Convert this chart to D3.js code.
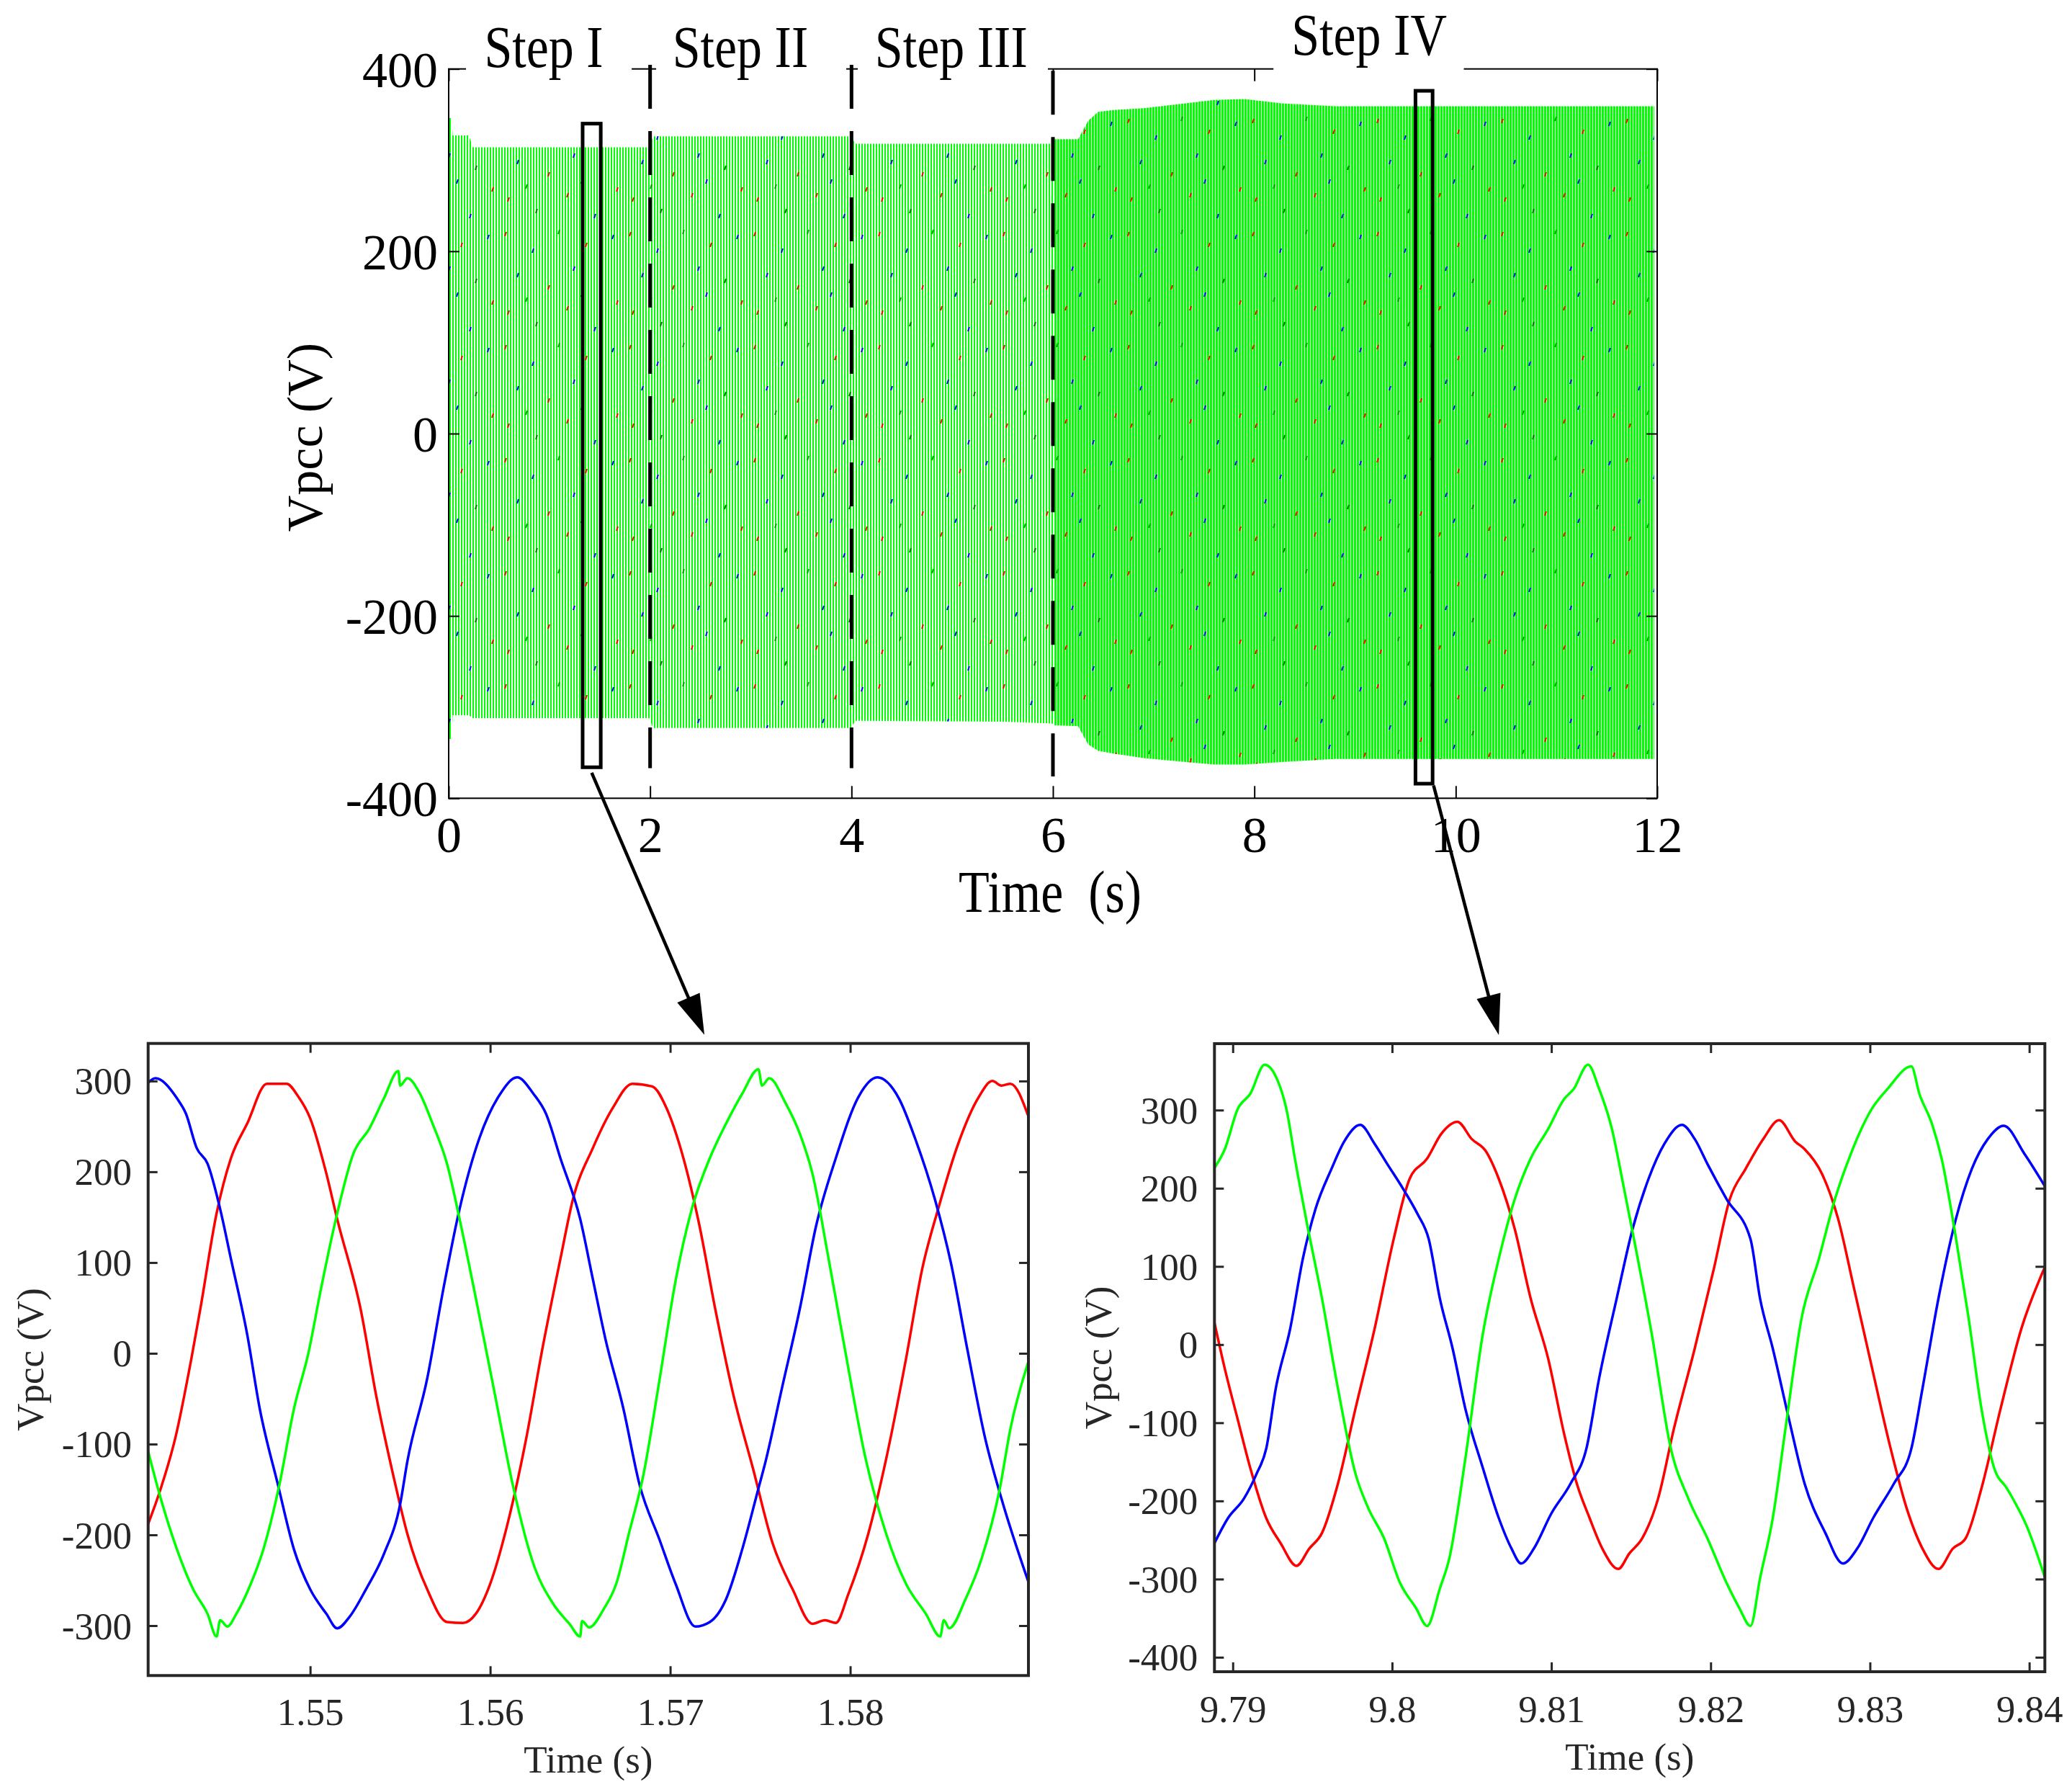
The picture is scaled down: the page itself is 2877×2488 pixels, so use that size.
<!DOCTYPE html>
<html>
<head>
<meta charset="utf-8">
<script src="https://cdn.jsdelivr.net/npm/d3@7"></script>
<style>
  body { margin: 0; background: #fff; }
  svg { display: block; background: #fff; }
  text { font-family: "Liberation Serif", "Times New Roman", serif; }
</style>
</head>
<body>
<svg id="fig" width="2877" height="2488"></svg>
<script>
///////////////////// data /////////////////////
// top plot: envelope of the 3-phase Vpcc over the whole run (V)
const envTime  = [0, 0.03, 0.04, 0.2, 0.24, 1.99, 2.03, 3.99, 4.04, 5.5, 5.99, 6.02, 6.25, 6.35, 6.45, 6.6, 6.9, 7.3, 7.6, 7.9, 8.3, 8.8, 11.97];
const envUpper = [346, 346, 327, 327, 314, 314, 326, 326, 318, 318, 318, 323, 323, 343, 353, 355, 357, 362, 366, 367, 362, 359, 359];
const envLower = [-335, -335, -309, -309, -312, -312, -323, -323, -315, -316, -318, -320, -321, -341, -348, -351, -356, -360, -363, -363, -360, -357, -357];

const topXTicks = [0, 2, 4, 6, 8, 10, 12];
const topYTicks = [-400, -200, 0, 200, 400];

// step annotations (time in s)
const stepNames   = ["Step I", "Step II", "Step III", "Step IV"];
const stepCentres = [0.944, 2.896, 4.99, 9.14];
const stepBoxes   = [[0.172, 1.817], [2.06, 3.948], [4.062, 5.95], [8.19, 10.08]];
const stepLines   = [2, 4, 6];
const stepLineTop = [404.5, 404.5, 398];
const stepLineBot = [-367, -367, -376];

// zoom windows marked on the top plot: [t0, t1, vLow, vHigh]
const zoomBoxes = [[1.33, 1.51, -366, 340], [9.60, 9.77, -384, 376]];
// arrows: start point on top plot [t, V], end time on the zoomed panel
const arrowFrom = [[1.42, -372], [9.78, -386]];
const arrowToT  = [1.5719, 9.8067];

// zoom on Step I (bottom left), [t, V]
const stepIRed = [[1.5410,-188],[1.5417,-149],[1.5425,-94],[1.5434,-6],[1.5439,49],[1.5448,154],[1.5456,215],[1.5465,253],[1.5476,297],[1.5487,297],[1.5493,284],[1.5500,259],[1.5509,198],[1.5515,148],[1.5528,49],[1.5537,-50],[1.5546,-133],[1.5554,-199],[1.5565,-260],[1.5576,-296],[1.5585,-297],[1.5592,-287],[1.5600,-254],[1.5609,-193],[1.5620,-94],[1.5629,5],[1.5639,104],[1.5646,170],[1.5657,226],[1.5668,270],[1.5679,297],[1.5690,294],[1.5698,270],[1.5705,231],[1.5716,143],[1.5725,49],[1.5735,-45],[1.5746,-127],[1.5757,-210],[1.5768,-260],[1.5779,-298],[1.5786,-294],[1.5792,-297],[1.5799,-265],[1.5810,-199],[1.5820,-116],[1.5831,-6],[1.5840,93],[1.5849,160],[1.5860,231],[1.5871,281],[1.5879,300],[1.5884,295],[1.5889,297],[1.5899,261]];
const stepIBlue = [[1.5410,298],[1.5414,303],[1.5426,281],[1.5431,264],[1.5437,226],[1.5443,209],[1.5450,159],[1.5456,104],[1.5465,21],[1.5472,-61],[1.5482,-144],[1.5491,-216],[1.5500,-260],[1.5509,-287],[1.5515,-303],[1.5522,-290],[1.5531,-260],[1.5541,-221],[1.5550,-166],[1.5554,-119],[1.5565,-28],[1.5574,71],[1.5583,159],[1.5594,237],[1.5605,284],[1.5615,304],[1.5624,286],[1.5631,264],[1.5639,215],[1.5650,148],[1.5657,82],[1.5664,16],[1.5674,-61],[1.5683,-145],[1.5694,-205],[1.5703,-254],[1.5714,-301],[1.5722,-296],[1.5731,-271],[1.5740,-216],[1.5749,-149],[1.5753,-119],[1.5762,-39],[1.5772,49],[1.5781,140],[1.5792,215],[1.5805,284],[1.5815,304],[1.5827,281],[1.5836,237],[1.5847,170],[1.5856,99],[1.5865,5],[1.5875,-94],[1.5884,-160],[1.5899,-252]];
const stepIGreen = [[1.5410,-108],[1.5417,-160],[1.5426,-216],[1.5435,-260],[1.5443,-287],[1.5448,-312],[1.5450,-294],[1.5454,-301],[1.5459,-287],[1.5467,-254],[1.5474,-216],[1.5483,-144],[1.5491,-61],[1.5499,0],[1.5506,71],[1.5515,154],[1.5524,220],[1.5533,248],[1.5541,281],[1.5549,311],[1.5550,295],[1.5554,303],[1.5561,286],[1.5568,253],[1.5576,209],[1.5583,148],[1.5591,71],[1.5602,-39],[1.5613,-149],[1.5624,-232],[1.5635,-276],[1.5644,-298],[1.5650,-312],[1.5651,-295],[1.5655,-302],[1.5663,-282],[1.5670,-254],[1.5677,-199],[1.5685,-135],[1.5694,-30],[1.5703,80],[1.5712,159],[1.5722,215],[1.5731,253],[1.5740,286],[1.5749,313],[1.5751,295],[1.5755,303],[1.5764,276],[1.5772,242],[1.5779,198],[1.5788,104],[1.5797,5],[1.5808,-111],[1.5820,-199],[1.5831,-254],[1.5842,-287],[1.5850,-312],[1.5852,-294],[1.5855,-303],[1.5864,-271],[1.5873,-226],[1.5883,-150],[1.5889,-83],[1.5899,-9]];

// zoom on Step IV (bottom right), [t, V]
const stepIVRed = [[9.78885,28],[9.7895,-31],[9.7903,-95],[9.7911,-158],[9.7921,-222],[9.7930,-254],[9.7940,-283],[9.7948,-261],[9.7956,-241],[9.7966,-178],[9.7977,-82],[9.7989,20],[9.8001,135],[9.8011,212],[9.8022,238],[9.8031,270],[9.8041,285],[9.8050,263],[9.8059,247],[9.8067,212],[9.8077,148],[9.8087,59],[9.8098,-18],[9.8108,-114],[9.8116,-178],[9.8124,-222],[9.8132,-261],[9.8142,-287],[9.8149,-267],[9.8157,-248],[9.8167,-197],[9.8177,-107],[9.8190,-5],[9.8202,97],[9.8212,186],[9.8222,225],[9.8233,263],[9.8243,287],[9.8253,260],[9.8259,250],[9.8270,218],[9.8280,161],[9.8290,72],[9.8300,-18],[9.8313,-133],[9.8323,-209],[9.8333,-261],[9.8343,-287],[9.8352,-261],[9.8360,-248],[9.8370,-184],[9.8382,-82],[9.8395,20],[9.8410,100]];
const stepIVBlue = [[9.78885,-254],[9.7897,-222],[9.7907,-197],[9.7915,-165],[9.7921,-133],[9.7927,-56],[9.7936,20],[9.7944,110],[9.7952,174],[9.7962,225],[9.7970,260],[9.7980,281],[9.7989,257],[9.7997,231],[9.8007,199],[9.8016,167],[9.8023,135],[9.8030,59],[9.8038,-5],[9.8046,-82],[9.8057,-158],[9.8067,-222],[9.8075,-261],[9.8081,-280],[9.8089,-261],[9.8100,-216],[9.8112,-178],[9.8122,-133],[9.8130,-43],[9.8141,59],[9.8151,148],[9.8161,212],[9.8171,257],[9.8182,281],[9.8190,263],[9.8198,231],[9.8210,186],[9.8225,135],[9.8231,59],[9.8239,-5],[9.8249,-94],[9.8259,-178],[9.8272,-241],[9.8283,-280],[9.8292,-261],[9.8302,-222],[9.8315,-178],[9.8326,-133],[9.8333,-56],[9.8343,59],[9.8354,161],[9.8364,225],[9.8374,263],[9.8384,280],[9.8397,244],[9.8410,202]];
const stepIVGreen = [[9.78885,226],[9.7895,250],[9.7903,301],[9.7911,321],[9.7920,358],[9.7927,343],[9.7934,298],[9.7939,238],[9.7946,161],[9.7956,59],[9.7966,-56],[9.7977,-165],[9.7985,-209],[9.7995,-248],[9.8005,-305],[9.8015,-337],[9.8022,-360],[9.8030,-312],[9.8036,-273],[9.8046,-146],[9.8057,14],[9.8067,110],[9.8077,186],[9.8087,238],[9.8098,276],[9.8108,314],[9.8114,327],[9.8123,358],[9.8130,327],[9.8138,276],[9.8145,206],[9.8153,123],[9.8163,14],[9.8175,-133],[9.8186,-197],[9.8198,-248],[9.8210,-305],[9.8218,-337],[9.8225,-360],[9.8231,-299],[9.8239,-222],[9.8247,-107],[9.8257,33],[9.8268,110],[9.8278,186],[9.8288,244],[9.8301,301],[9.8311,327],[9.8326,356],[9.8331,321],[9.8339,282],[9.8345,238],[9.8354,136],[9.8362,33],[9.8370,-82],[9.8378,-158],[9.8386,-184],[9.8399,-235],[9.8410,-299]];

const stepITicksX  = [1.55, 1.56, 1.57, 1.58];
const stepITicksY  = [-300, -200, -100, 0, 100, 200, 300];
const stepIVTicksX = [9.79, 9.8, 9.81, 9.82, 9.83, 9.84];
const stepIVTicksY = [-400, -300, -200, -100, 0, 100, 200, 300];

const phaseColours = ["#ff0000", "#0000ff", "#00ff00"];

// texture marks for the aliased red/blue samples inside the green band
const sprinkleMarks = [[9,14,"#ff0000"],[47,37,"#0000ff"],[83,11,"#00a000"],[121,29,"#ff0000"],[158,18,"#0000ff"],
  [26,71,"#0000ff"],[69,88,"#ff0000"],[104,62,"#0000ff"],[141,79,"#007000"],[13,123,"#ff0000"],
  [52,139,"#007000"],[95,117,"#ff0000"],[133,146,"#0000ff"],[164,109,"#ff0000"],[38,105,"#00a000"],[115,98,"#0000ff"]];

/////////////////////////////// drawing ///////////////////////////////
const svg = d3.select("#fig");
const defs = svg.append("defs");

function hatch(id, w) {
  defs.append("pattern").attr("id", id).attr("patternUnits", "userSpaceOnUse")
    .attr("width", 4).attr("height", 10)
    .append("rect").attr("width", w).attr("height", 10).attr("fill", "#00ff00");
}
hatch("hatchA", 2);
hatch("hatchB", 3);
const sp = defs.append("pattern").attr("id", "sprinkle").attr("patternUnits", "userSpaceOnUse")
  .attr("width", 173).attr("height", 157);
sp.selectAll("line").data(sprinkleMarks).join("line")
  .attr("x1", d => d[0]).attr("y1", d => d[1])
  .attr("x2", d => d[0] + 2).attr("y2", d => d[1] - 6)
  .attr("stroke", d => d[2]).attr("stroke-width", 2);

// ---- top plot ----
const T = { x0: 623, x1: 2301, y0: 95.7, y1: 1108.3 };
const xT = d3.scaleLinear().domain([0, 12]).range([T.x0, T.x1]);
const yT = d3.scaleLinear().domain([-400, 400]).range([T.y1, T.y0]);

const envelope = envTime.map((t, i) => ({ t: t, hi: envUpper[i], lo: envLower[i] }));
const band = d3.area().x(d => xT(d.t)).y0(d => yT(d.lo)).y1(d => yT(d.hi));

const gTop = svg.append("g");
gTop.append("path").datum(envelope.filter(d => d.t <= 6.02)).attr("d", band).attr("fill", "url(#hatchA)");
gTop.append("path").datum(envelope.filter(d => d.t >= 6.02)).attr("d", band).attr("fill", "url(#hatchB)");
gTop.append("path").datum(envelope).attr("d", band).attr("fill", "url(#sprinkle)");

gTop.append("rect").attr("x", T.x0).attr("y", T.y0)
  .attr("width", T.x1 - T.x0).attr("height", T.y1 - T.y0)
  .attr("fill", "none").attr("stroke", "#000").attr("stroke-width", 2);

function styleAxis(g, colour, size, sw) {
  g.select(".domain").remove();
  g.selectAll(".tick line").attr("stroke", colour).attr("stroke-width", sw);
  g.selectAll(".tick text").attr("fill", colour)
    .attr("font-family", "Liberation Serif").attr("font-size", size);
}

gTop.append("g").attr("transform", `translate(0,${T.y1})`)
  .call(d3.axisBottom(xT).tickValues(topXTicks).tickSize(-17).tickFormat(d => String(d)))
  .call(g => styleAxis(g, "#000", 70, 2))
  .selectAll(".tick text").attr("y", 74.7).attr("dy", null);
gTop.append("g").attr("transform", `translate(0,${T.y0})`)
  .call(d3.axisTop(xT).tickValues(topXTicks).tickSize(-17).tickFormat(() => ""))
  .call(g => styleAxis(g, "#000", 70, 2));
gTop.append("g").attr("transform", `translate(${T.x0},0)`)
  .call(d3.axisLeft(yT).tickValues(topYTicks).tickSize(-15).tickPadding(15).tickFormat(d => String(d)))
  .call(g => styleAxis(g, "#000", 70, 2))
  .selectAll(".tick text").attr("dy", "0.35em");
gTop.append("g").attr("transform", `translate(${T.x1},0)`)
  .call(d3.axisRight(yT).tickValues(topYTicks).tickSize(-15).tickFormat(() => ""))
  .call(g => styleAxis(g, "#000", 70, 2));

// white boxes behind the step titles hide the top border
gTop.selectAll("rect.stepbox").data(stepBoxes).join("rect").attr("class", "stepbox")
  .attr("x", d => xT(d[0])).attr("width", d => xT(d[1]) - xT(d[0]))
  .attr("y", 0).attr("height", 118).attr("fill", "#fff");

gTop.selectAll("text.step").data(stepNames).join("text").attr("class", "step")
  .attr("transform", (d, i) => `translate(${xT(stepCentres[i])},${i === 3 ? 76 : 92.7}) scale(1,1.18)`)
  .attr("text-anchor", "middle").attr("font-size", 70).attr("fill", "#000")
  .text(d => d);

gTop.selectAll("line.stepline").data(stepLines).join("line").attr("class", "stepline")
  .attr("x1", d => xT(d)).attr("x2", d => xT(d))
  .attr("y1", (d, i) => yT(stepLineTop[i])).attr("y2", (d, i) => yT(stepLineBot[i]))
  .attr("stroke", "#000").attr("stroke-width", 5).attr("stroke-dasharray", "61,31");

gTop.selectAll("rect.zoombox").data(zoomBoxes).join("rect").attr("class", "zoombox")
  .attr("x", d => xT(d[0])).attr("width", d => xT(d[1]) - xT(d[0]))
  .attr("y", d => yT(d[3])).attr("height", d => yT(d[2]) - yT(d[3]))
  .attr("fill", "none").attr("stroke", "#000").attr("stroke-width", 5);

gTop.append("text")
  .attr("transform", `translate(${(T.x0 + T.x1) / 2 - 4},1266) scale(1,1.18)`)
  .attr("text-anchor", "middle").attr("font-size", 70).attr("fill", "#000")
  .text("Time\u00a0\u00a0(s)");
gTop.append("text")
  .attr("transform", `translate(447,607) rotate(-90)`)
  .attr("text-anchor", "middle").attr("font-size", 70).attr("fill", "#000")
  .text("Vpcc (V)");

// ---- zoomed panels ----
const panels = [
  { x0: 205.7, x1: 1428, y0: 1448.7, y1: 2326.3, xDom: [1.541, 1.5899], yDom: [-355, 341.4],
    xTicks: stepITicksX, yTicks: stepITicksY, series: [stepIRed, stepIBlue, stepIGreen],
    yPad: 22.7, xBase: 68.4, yLabX: 60, xLabY: 2461 },
  { x0: 1686.3, x1: 2839.3, y0: 1449, y1: 2321, xDom: [9.78885, 9.84098], yDom: [-418.5, 385],
    xTicks: stepIVTicksX, yTicks: stepIVTicksY, series: [stepIVRed, stepIVBlue, stepIVGreen],
    yPad: 23, xBase: 69.7, yLabX: 1543, xLabY: 2457 }
];

const ink = "#262626";
panels.forEach((p, k) => {
  p.x = d3.scaleLinear().domain(p.xDom).range([p.x0, p.x1]);
  p.y = d3.scaleLinear().domain(p.yDom).range([p.y1, p.y0]);
  const g = svg.append("g");
  defs.append("clipPath").attr("id", "clip" + k).append("rect")
    .attr("x", p.x0).attr("y", p.y0).attr("width", p.x1 - p.x0).attr("height", p.y1 - p.y0);

  const line = d3.line().x(d => p.x(d[0])).y(d => p.y(d[1])).curve(d3.curveMonotoneX);
  g.append("g").attr("clip-path", `url(#clip${k})`)
    .selectAll("path").data(p.series).join("path")
    .attr("d", line).attr("fill", "none")
    .attr("stroke", (d, i) => phaseColours[i]).attr("stroke-width", 3.5)
    .attr("stroke-linejoin", "round");

  g.append("g").attr("transform", `translate(0,${p.y1})`)
    .call(d3.axisBottom(p.x).tickValues(p.xTicks).tickSize(-13).tickFormat(d => String(d)))
    .call(a => styleAxis(a, ink, 53, 3))
    .selectAll(".tick text").attr("y", p.xBase).attr("dy", null);
  g.append("g").attr("transform", `translate(0,${p.y0})`)
    .call(d3.axisTop(p.x).tickValues(p.xTicks).tickSize(-13).tickFormat(() => ""))
    .call(a => styleAxis(a, ink, 53, 3));
  g.append("g").attr("transform", `translate(${p.x0},0)`)
    .call(d3.axisLeft(p.y).tickValues(p.yTicks).tickSize(-13).tickPadding(p.yPad).tickFormat(d => String(d)))
    .call(a => styleAxis(a, ink, 53, 3))
    .selectAll(".tick text").attr("dy", "0.34em");
  g.append("g").attr("transform", `translate(${p.x1},0)`)
    .call(d3.axisRight(p.y).tickValues(p.yTicks).tickSize(-13).tickFormat(() => ""))
    .call(a => styleAxis(a, ink, 53, 3));

  g.append("rect").attr("x", p.x0).attr("y", p.y0)
    .attr("width", p.x1 - p.x0).attr("height", p.y1 - p.y0)
    .attr("fill", "none").attr("stroke", ink).attr("stroke-width", 4);

  g.append("text").attr("x", (p.x0 + p.x1) / 2).attr("y", p.xLabY)
    .attr("text-anchor", "middle").attr("font-size", 53).attr("fill", ink)
    .text("Time (s)");
  g.append("text").attr("transform", `translate(${p.yLabX},${(p.y0 + p.y1) / 2}) rotate(-90)`)
    .attr("text-anchor", "middle").attr("font-size", 53).attr("fill", ink)
    .text("Vpcc (V)");
});

// ---- arrows from the marked windows to the zoomed panels ----
arrowFrom.forEach((f, i) => {
  const p = panels[i];
  const sx = xT(f[0]), sy = yT(f[1]);
  const ex = p.x(arrowToT[i]), ey = p.y0 - 12;
  const len = Math.hypot(ex - sx, ey - sy);
  const ux = (ex - sx) / len, uy = (ey - sy) / len;
  const head = 56, half = 17;
  const bx = ex - ux * head, by = ey - uy * head;
  svg.append("line").attr("x1", sx).attr("y1", sy).attr("x2", bx + ux * 4).attr("y2", by + uy * 4)
    .attr("stroke", "#000").attr("stroke-width", 4.5);
  svg.append("path")
    .attr("d", `M${ex},${ey}L${bx - uy * half},${by + ux * half}L${bx + uy * half},${by - ux * half}Z`)
    .attr("fill", "#000");
});
</script>
</body>
</html>
